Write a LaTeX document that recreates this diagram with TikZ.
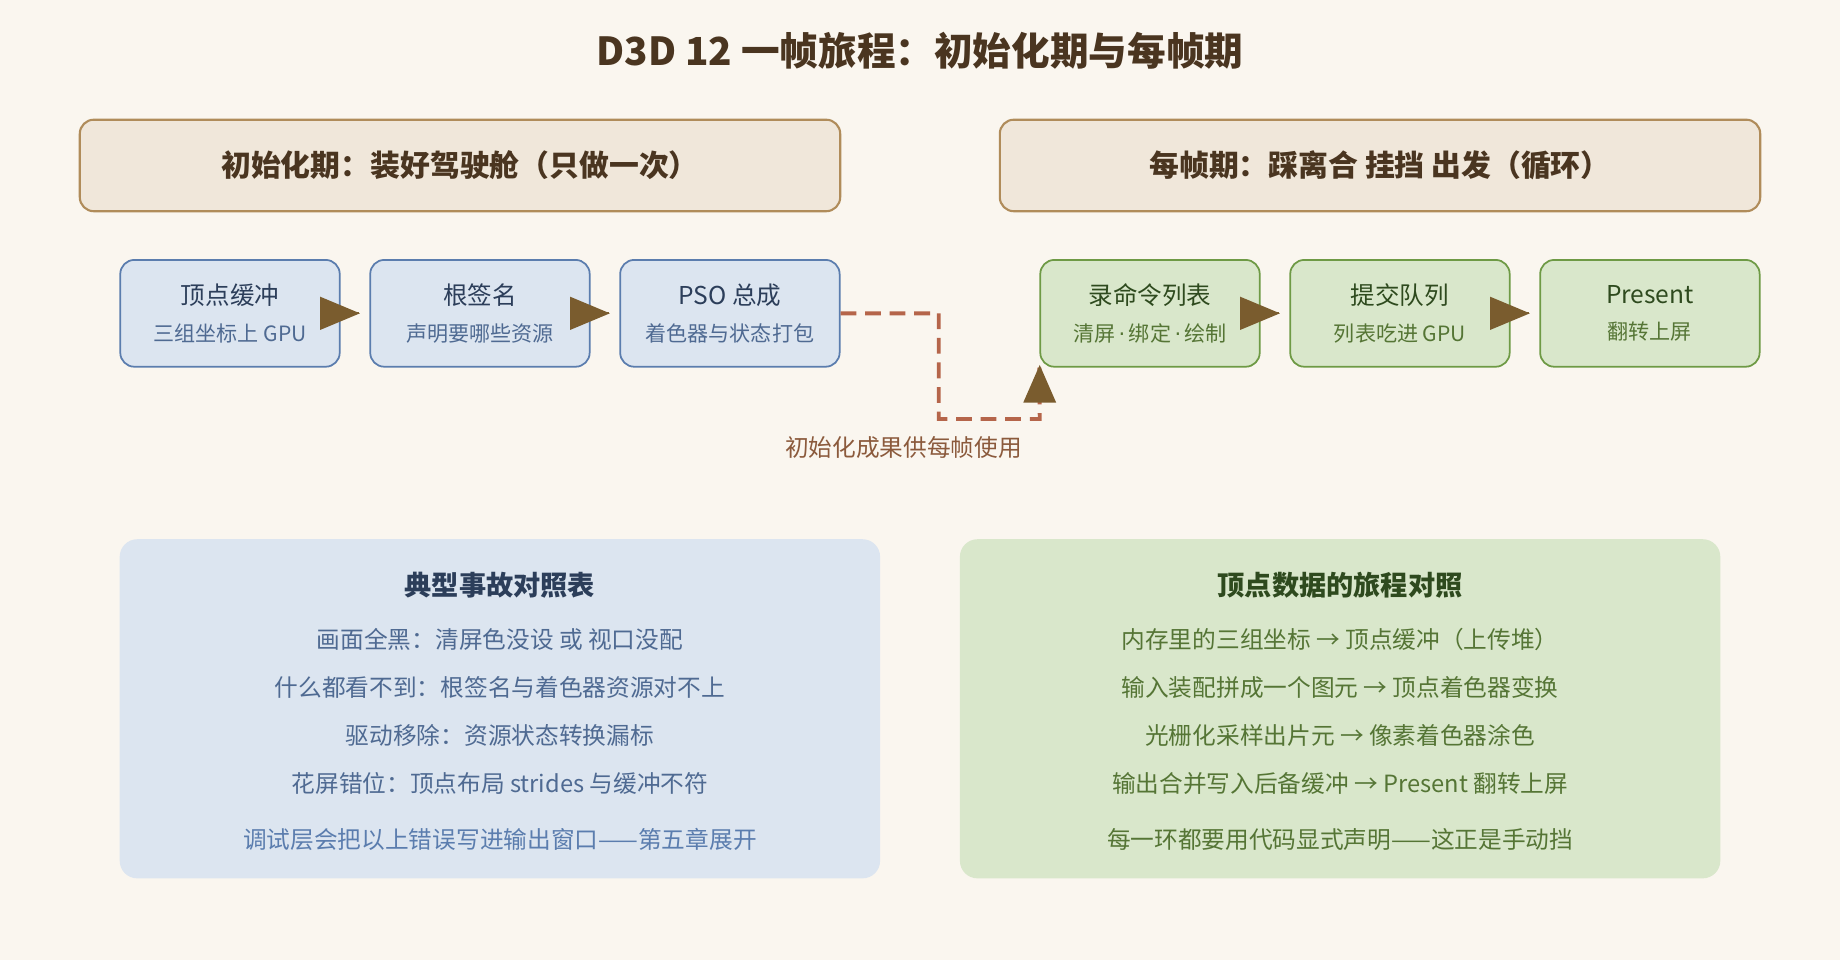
\documentclass[tikz,border=0pt]{standalone}
\usepackage{fontspec}
\setmainfont{Noto Sans CJK SC}
\newfontfamily\dotfont{DejaVu Sans}
\usetikzlibrary{arrows.meta,positioning}
\definecolor{bgcol}{HTML}{FAF6EF}
\definecolor{hdrfill}{HTML}{F0E7DA}
\definecolor{hdrline}{HTML}{B08C5A}
\definecolor{hdrtext}{HTML}{4A3520}
\definecolor{bluefill}{HTML}{DCE5F0}
\definecolor{blueline}{HTML}{5B7DAE}
\definecolor{bluetext}{HTML}{2C3E5A}
\definecolor{bluesub}{HTML}{4F6A92}
\definecolor{greenfill}{HTML}{D9E7CB}
\definecolor{greenline}{HTML}{6E9A45}
\definecolor{greentext}{HTML}{2E4A1E}
\definecolor{greensub}{HTML}{557535}
\definecolor{arrowcol}{HTML}{7A5C2E}
\definecolor{dashcol}{HTML}{B5654A}
\definecolor{notecol}{HTML}{8B5A3C}
\tikzset{
  header/.style={draw=hdrline, fill=hdrfill, line width=1.2pt, rounded corners=8pt,
    minimum width=648*0.0235cm, minimum height=78*0.0235cm, text=hdrtext,
    font=\fontsize{17}{20}\selectfont\bfseries},
  step/.style={draw=#1line, fill=#1fill, line width=1pt, rounded corners=8pt,
    minimum width=187*0.0235cm, minimum height=91*0.0235cm, align=center, inner sep=0pt},
  flow/.style={arrowcol, line width=1pt, shorten <=-16*0.0235cm, shorten >=8*0.0235cm,
    -{Triangle[length=34*0.0235cm, width=28*0.0235cm]}},
  panel/.style={fill=#1fill, rounded corners=10pt, minimum width=648*0.0235cm,
    minimum height=289*0.0235cm},
  line/.style={font=\fontsize{13.5}{16}\selectfont}
}
\newcommand{\steptext}[3]{{\color{#1text}\fontsize{14}{17}\selectfont #2}\\[9pt]{\color{#1sub}\fontsize{12}{15}\selectfont #3}}
\newcommand{\mdot}{{\dotfont\,·\,}}
\begin{document}
\begin{tikzpicture}[x=0.0235cm, y=-0.0235cm]
\fill[bgcol] (0,0) rectangle (1568,818);
\useasboundingbox (0,0) rectangle (1568,818);

\node (title) at (784,43) [text=hdrtext, font=\fontsize{22}{26}\selectfont\bfseries] {D3D 12 一帧旅程：初始化期与每帧期};

% two phases
\node (initHdr) at (392,141) [header] {初始化期：装好驾驶舱（只做一次）};
\node (frameHdr) at (1176,141) [header] {每帧期：踩离合 挂挡 出发（循环）};

% init steps
\node (vbuf) at (196,267) [step=blue] {\steptext{blue}{顶点缓冲}{三组坐标上 GPU}};
\node (rootSig) at (409,267) [step=blue] {\steptext{blue}{根签名}{声明要哪些资源}};
\node (pso) at (622,267) [step=blue] {\steptext{blue}{PSO 总成}{着色器与状态打包}};

% frame steps
\node (cmdList) at (980,267) [step=green] {\steptext{green}{录命令列表}{清屏\mdot 绑定\mdot 绘制}};
\node (queue) at (1193,267) [step=green] {\steptext{green}{提交队列}{列表吃进 GPU}};
\node (present) at (1406,267) [step=green] {\steptext{green}{Present}{翻转上屏}};

\draw[flow] (vbuf) -- (rootSig);
\draw[flow] (rootSig) -- (pso);
\draw[flow] (cmdList) -- (queue);
\draw[flow] (queue) -- (present);

% hand-over
\coordinate (bend1) at (800,267);
\coordinate (bend2) at (800,357);
\coordinate (bend3) at (886,357);
\draw[dashcol, line width=2.2pt, dash pattern=on 9pt off 5pt] (pso.east) -- (bend1) -- (bend2) -- (bend3) -- (cmdList.south west);
\fill[arrowcol] (886,311) -- (872,343) -- (900,343) -- cycle;
\node (handNote) at (770,381) [text=notecol, font=\fontsize{13.5}{16}\selectfont] {初始化成果供每帧使用};

% bottom panels
\node (faults) at (426,604) [panel=blue] {};
\node (journey) at (1142,604) [panel=green] {};

\node (faultTitle) at (426,499) [text=bluetext, font=\fontsize{15.5}{18}\selectfont\bfseries] {典型事故对照表};
\node[line, text=bluesub] (f1) at (426,545) {画面全黑：清屏色没设 或 视口没配};
\node[line, text=bluesub] (f2) at (426,586) {什么都看不到：根签名与着色器资源对不上};
\node[line, text=bluesub] (f3) at (426,627) {驱动移除：资源状态转换漏标};
\node[line, text=bluesub] (f4) at (426,668) {花屏错位：顶点布局 strides 与缓冲不符};
\node[line, text=blueline] (f5) at (426,715) {调试层会把以上错误写进输出窗口——第五章展开};

\node (journeyTitle) at (1142,499) [text=greentext, font=\fontsize{15.5}{18}\selectfont\bfseries] {顶点数据的旅程对照};
\node[line, text=greensub] (j1) at (1142,545) {内存里的三组坐标 → 顶点缓冲（上传堆）};
\node[line, text=greensub] (j2) at (1142,586) {输入装配拼成一个图元 → 顶点着色器变换};
\node[line, text=greensub] (j3) at (1142,627) {光栅化采样出片元 → 像素着色器涂色};
\node[line, text=greensub] (j4) at (1142,668) {输出合并写入后备缓冲 → Present 翻转上屏};
\node[line, text=greensub] (j5) at (1142,715) {每一环都要用代码显式声明——这正是手动挡};
\end{tikzpicture}
\end{document}
